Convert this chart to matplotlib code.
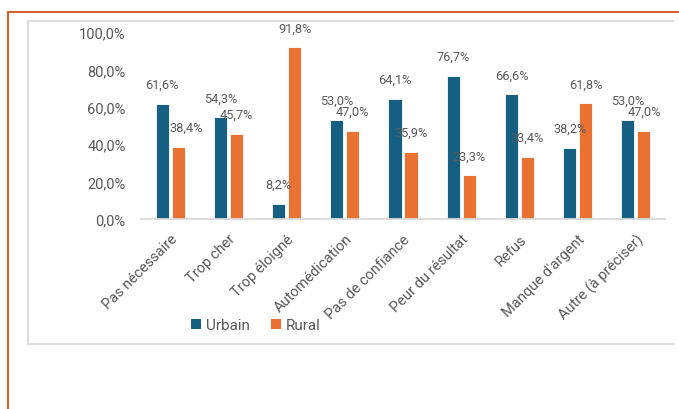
import matplotlib
matplotlib.use("Agg")
import matplotlib.pyplot as plt
from matplotlib.lines import Line2D
import numpy as np

categories = ["Pas nécessaire", "Trop cher", "Trop éloigné", "Automédication",
              "Pas de confiance", "Peur du résultat", "Refus", "Manque d'argent",
              "Autre (à préciser)"]
urbain = [61.6, 54.3, 8.2, 53.0, 64.1, 76.7, 66.6, 38.2, 53.0]
rural = [38.4, 45.7, 91.8, 47.0, 35.9, 23.3, 33.4, 61.8, 47.0]
yticks = [0, 20, 40, 60, 80, 100]
series_names = ["Urbain", "Rural"]

c_urb = "#156082"
c_rur = "#E97132"
txt = "#595959"

plt.rcParams['font.family'] = ['Roboto', 'DejaVu Sans']

W, H = 679, 410
fig = plt.figure(figsize=(W / 100, H / 100), dpi=100)

def fx(px):
    return px / W

def fy(py):
    return 1 - py / H

ax = fig.add_axes([fx(141), fy(220), fx(665) - fx(141), fy(33) - fy(220)])

x = np.arange(len(categories))
bw = 0.225
off = 0.138
b1 = ax.bar(x - off, urbain, bw, color=c_urb, edgecolor="white", linewidth=0.6, label=series_names[0])
b2 = ax.bar(x + off, rural, bw, color=c_rur, edgecolor="white", linewidth=0.6, label=series_names[1])

# small horizontal nudges of a few labels (in points), as in the reference
rural_dx = {0: 6}

for si, (xs, vals) in enumerate(((x - off, urbain), (x + off, rural))):
    for i, (xi, v) in enumerate(zip(xs, vals)):
        dx = rural_dx.get(i, 0) if si == 1 else 0
        ax.annotate(f"{v:.1f}%".replace(".", ","), (xi, v), xytext=(dx, 14),
                    textcoords="offset points", ha="center", va="center",
                    fontsize=9.2, color=txt, annotation_clip=False)

ax.set_xlim(-0.5, len(categories) - 0.5)
ax.set_ylim(0, 100)
ax.set_yticks(yticks)
ax.set_yticklabels([f"{t:.1f}%".replace(".", ",") for t in yticks], fontsize=10.5, color=txt)
ax.set_xticks(x)
ax.set_xticklabels(categories, rotation=45, ha="right", va="top",
                   rotation_mode="anchor", fontsize=10.5, color=txt)
ax.tick_params(axis="y", length=0, pad=11)
ax.tick_params(axis="x", length=0, pad=9)
for s in ["top", "right", "left"]:
    ax.spines[s].set_visible(False)
ax.spines["bottom"].set_color("#d9d9d9")
ax.spines["bottom"].set_linewidth(1.3)

leg = fig.legend(handles=[b1, b2], labels=series_names, loc="center left",
                 bbox_to_anchor=(fx(191), fy(326)), ncol=2, frameon=False,
                 handlelength=0.65, handleheight=0.65, handletextpad=0.3,
                 columnspacing=1.4, fontsize=11, labelcolor=txt,
                 borderaxespad=0, borderpad=0)
for h in leg.legend_handles:
    h.set_edgecolor("none")

# frames
gray = "#dcdcdc"
red = "#D0602E"
fig.add_artist(Line2D([fx(28), fx(673)], [fy(22), fy(22)], color=gray, lw=1.5, transform=fig.transFigure))
fig.add_artist(Line2D([fx(28), fx(673)], [fy(345), fy(345)], color=gray, lw=1.5, transform=fig.transFigure))
fig.add_artist(Line2D([fx(28), fx(28)], [fy(22), fy(345)], color=gray, lw=1.5, transform=fig.transFigure))
fig.add_artist(Line2D([fx(8), fx(679)], [fy(12.5), fy(12.5)], color=red, lw=1.5, transform=fig.transFigure))
fig.add_artist(Line2D([fx(8), fx(8)], [fy(12.5), fy(410)], color=red, lw=1.5, transform=fig.transFigure))

fig.savefig("out.png", dpi=100)
